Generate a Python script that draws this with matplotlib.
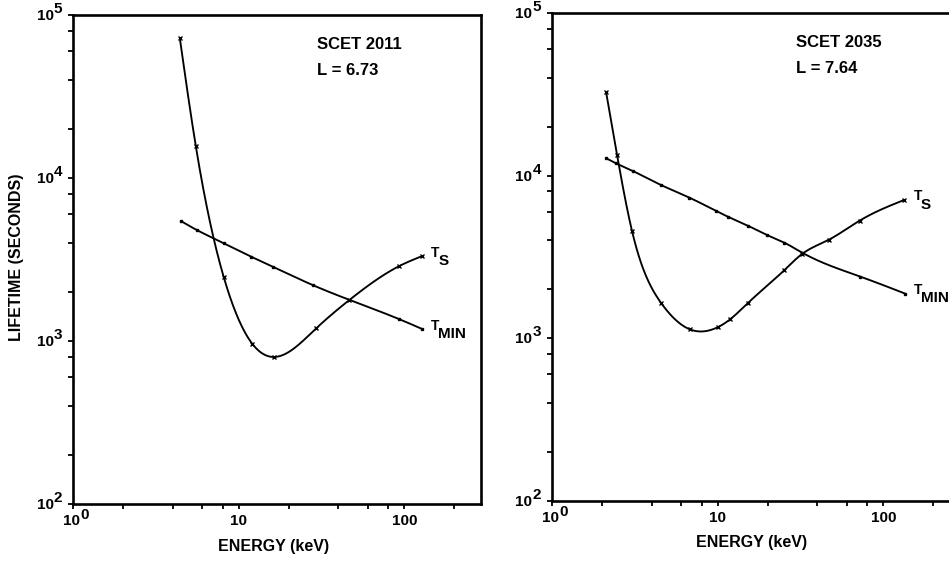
import numpy as np
import matplotlib
matplotlib.use("Agg")
import matplotlib.pyplot as plt
from matplotlib.ticker import FixedLocator, NullFormatter

plt.rcParams.update({
    "font.family": "Liberation Sans",
})

# ---------------- data ----------------
# Left panel: SCET 2011, L = 6.73
left_ts_energy = [4.41, 5.51, 8.12, 12.1, 16.3, 29.4, 46.6, 93.3, 128]
left_ts_life = [72300, 15700, 2470, 959, 798, 1197, 1786, 2885, 3320]
left_tmin_energy = [4.47, 5.58, 8.1, 11.9, 16.2, 27.9, 93.3, 128]
left_tmin_life = [5450, 4800, 3990, 3290, 2845, 2206, 1360, 1185]

# Right panel: SCET 2035, L = 7.64
right_ts_energy = [2.12, 2.47, 3.04, 4.54, 6.76, 10.0, 11.9, 15.3, 25.3, 32.3, 46.7, 71.9, 134]
right_ts_life = [32700, 13400, 4570, 1657, 1138, 1170, 1310, 1657, 2630, 3300, 4030, 5290, 7100]
right_tmin_energy = [2.12, 2.44, 3.07, 4.54, 6.75, 9.79, 11.5, 15.3, 19.8, 25.3, 32.3, 72.6, 135]
right_tmin_life = [12800, 11900, 10690, 8770, 7325, 6070, 5600, 4910, 4320, 3870, 3365, 2395, 1885]

panel_titles = ["SCET 2011", "SCET 2035"]
panel_lshell = ["L = 6.73", "L = 7.64"]
# tick labels: (base text, superscript text)
x_major = [1, 10, 100]
x_major_labels = [("10", "0"), ("10", ""), ("100", "")]
x_minor = [2, 4, 6, 8, 20, 40, 60, 80, 200]
y_major = [1e2, 1e3, 1e4, 1e5]
y_major_labels = [("10", "2"), ("10", "3"), ("10", "4"), ("10", "5")]
y_minor = [m * 10.0 ** k for k in (2, 3, 4) for m in (2, 4, 6, 8)]
xlabel_text = "ENERGY (keV)"
ylabel_text = "LIFETIME (SECONDS)"


def natural_cubic(x, y, xs):
    x = np.asarray(x, float)
    y = np.asarray(y, float)
    n = len(x)
    h = np.diff(x)
    A = np.zeros((n, n))
    b = np.zeros(n)
    A[0, 0] = 1
    A[-1, -1] = 1
    for i in range(1, n - 1):
        A[i, i - 1] = h[i - 1]
        A[i, i] = 2 * (h[i - 1] + h[i])
        A[i, i + 1] = h[i]
        b[i] = 3 * ((y[i + 1] - y[i]) / h[i] - (y[i] - y[i - 1]) / h[i - 1])
    c = np.linalg.solve(A, b)
    idx = np.clip(np.searchsorted(x, xs) - 1, 0, n - 2)
    dx = xs - x[idx]
    bc = (y[1:] - y[:-1]) / h - h * (2 * c[:-1] + c[1:]) / 3
    d = (c[1:] - c[:-1]) / (3 * h)
    return y[idx] + bc[idx] * dx + c[idx] * dx ** 2 + d[idx] * dx ** 3


def smooth_curve(e, t):
    u = np.log10(e)
    v = np.log10(t)
    us = np.linspace(u[0], u[-1], 500)
    vs = natural_cubic(u, v, us)
    return 10 ** us, 10 ** vs


PX = 72 / 100.0  # points per pixel
FS_TICK = 11
W, H = 949, 561
fig = plt.figure(figsize=(W / 100, H / 100), dpi=100)
fig.patch.set_facecolor("white")
ax1 = fig.add_axes([73 / W, (H - 504) / H, 408 / W, 489 / H])
ax2 = fig.add_axes([552 / W, (H - 501) / H, 408 / W, 488 / H])

panels = [
    (ax1, left_ts_energy, left_ts_life, left_tmin_energy, left_tmin_life),
    (ax2, right_ts_energy, right_ts_life, right_tmin_energy, right_tmin_life),
]

for i, (ax, tse, tsl, tme, tml) in enumerate(panels):
    ax.set_xscale("log")
    ax.set_yscale("log")
    ax.set_xlim(1, 290)
    ax.set_ylim(1e2, 1e5)

    xs, ys = smooth_curve(tse, tsl)
    ax.plot(xs, ys, color="black", lw=1.35, solid_capstyle="round")
    ax.plot(tse, tsl, ls="none", marker="x", ms=3.5, mew=1.0, color="black")
    xs, ys = smooth_curve(tme, tml)
    ax.plot(xs, ys, color="black", lw=1.35, solid_capstyle="round")
    ax.plot(tme, tml, ls="none", marker="s", ms=1.8, color="black")

    # curve labels
    for e_end, t_end, sub in ((tse[-1], tsl[-1], "S"), (tme[-1], tml[-1], "MIN")):
        ax.annotate("T", xy=(e_end, t_end), xytext=(6.5, 2.5), textcoords="offset points",
                    ha="left", va="center", fontsize=10, fontweight="bold",
                    annotation_clip=False)
        ax.annotate(sub, xy=(e_end, t_end), xytext=(11.5, -3.5), textcoords="offset points",
                    ha="left", va="center", fontsize=11, fontweight="bold",
                    annotation_clip=False)

    ax.text(0.598, 0.939, panel_titles[i], transform=ax.transAxes, ha="left",
            va="center", fontsize=12, fontweight="bold")
    ax.text(0.598, 0.886, panel_lshell[i], transform=ax.transAxes, ha="left",
            va="center", fontsize=12, fontweight="bold")

    ax.xaxis.set_major_locator(FixedLocator(x_major))
    ax.xaxis.set_major_formatter(NullFormatter())
    ax.xaxis.set_minor_locator(FixedLocator(x_minor))
    ax.xaxis.set_minor_formatter(NullFormatter())
    ax.yaxis.set_major_locator(FixedLocator(y_major))
    ax.yaxis.set_major_formatter(NullFormatter())
    ax.yaxis.set_minor_locator(FixedLocator(y_minor))
    ax.yaxis.set_minor_formatter(NullFormatter())
    ax.tick_params(which="both", direction="out", length=3.8, width=1.3, colors="black")
    for sp in ax.spines.values():
        sp.set_linewidth(1.9)
        sp.set_color("black")

    # x tick labels (base + full-size superscript)
    for val, (base, sup) in zip(x_major, x_major_labels):
        if sup:
            ax.annotate(base, xy=(val, 0), xycoords=("data", "axes fraction"),
                        xytext=(7 * PX, -17 * PX), textcoords="offset points",
                        ha="right", va="center", fontsize=FS_TICK, fontweight="bold",
                        annotation_clip=False)
            ax.annotate(sup, xy=(val, 0), xycoords=("data", "axes fraction"),
                        xytext=(7 * PX, -11 * PX), textcoords="offset points",
                        ha="left", va="center", fontsize=FS_TICK, fontweight="bold",
                        annotation_clip=False)
        else:
            ax.annotate(base, xy=(val, 0), xycoords=("data", "axes fraction"),
                        xytext=(0, -17 * PX), textcoords="offset points",
                        ha="center", va="center", fontsize=FS_TICK, fontweight="bold",
                        annotation_clip=False)
    # y tick labels
    for val, (base, sup) in zip(y_major, y_major_labels):
        ax.annotate(base, xy=(0, val), xycoords=("axes fraction", "data"),
                    xytext=(-19.5 * PX, -1 * PX), textcoords="offset points",
                    ha="right", va="center", fontsize=FS_TICK, fontweight="bold",
                    annotation_clip=False)
        ax.annotate(sup, xy=(0, val), xycoords=("axes fraction", "data"),
                    xytext=(-19.5 * PX, 6 * PX), textcoords="offset points",
                    ha="left", va="center", fontsize=FS_TICK, fontweight="bold",
                    annotation_clip=False)

fig.text(17 / W, (H - 257) / H, ylabel_text, rotation=90, ha="center", va="center",
         fontsize=11.5, fontweight="bold")
fig.text(274 / W, (H - 546) / H, xlabel_text, ha="center", va="center",
         fontsize=11.5, fontweight="bold")
fig.text(752 / W, (H - 543) / H, xlabel_text, ha="center", va="center",
         fontsize=11.5, fontweight="bold")

fig.savefig("out.png", dpi=100, facecolor="white")
